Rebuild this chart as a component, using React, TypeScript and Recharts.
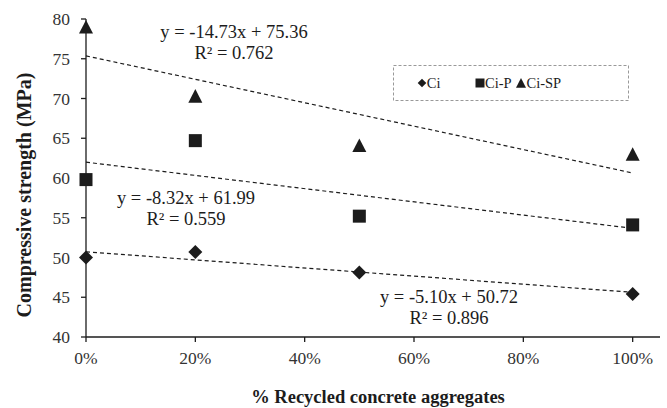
import React from 'react';
import {
  ComposedChart,
  Scatter,
  XAxis,
  YAxis,
  Customized
} from 'recharts';

// % recycled aggregate (fraction) and compressive strength (MPa)
const replacement = [0, 0.2, 0.5, 1];
const ciValues = [50.0, 50.7, 48.1, 45.4];
const ciPValues = [59.8, 64.7, 55.2, 54.1];
const ciSPValues = [79.0, 70.3, 64.1, 63.0];

// linear trendlines as printed on the chart
const trendSlopes = [-5.10, -8.32, -14.73];
const trendIntercepts = [50.72, 61.99, 75.36];
const trendR2 = ['0.896', '0.559', '0.762'];
const trendRange = [0, 1];

const xTicks = [0, 0.2, 0.4, 0.6, 0.8, 1];
const yTicks = [40, 45, 50, 55, 60, 65, 70, 75, 80];

const FONT = 'Liberation Serif, Tinos, Times New Roman, DejaVu Serif, serif';
const INK = '#1c1c1c';

const toPoints = (vals: number[]) => replacement.map((x, i) => ({ x, y: vals[i] }));
const trendPoints = (i: number) =>
  trendRange.map((x) => ({ x, y: trendSlopes[i] * x + trendIntercepts[i] }));

const Diamond = ({ cx, cy, r = 7 }: any) => (
  <polygon points={`${cx},${cy - r} ${cx + r},${cy} ${cx},${cy + r} ${cx - r},${cy}`} fill={INK} />
);
const Square = ({ cx, cy, r = 6.5 }: any) => (
  <rect x={cx - r} y={cy - r} width={2 * r} height={2 * r} fill={INK} />
);
const Triangle = ({ cx, cy, r = 7 }: any) => (
  <polygon points={`${cx},${cy - r} ${cx + r},${cy + r * 0.95} ${cx - r},${cy + r * 0.95}`} fill={INK} />
);
const NoDot = () => null;

const fmtEq = (i: number) => {
  const s = trendSlopes[i];
  return `y = ${s < 0 ? '-' : ''}${Math.abs(s).toFixed(2)}x + ${trendIntercepts[i].toFixed(2)}`;
};

// equation label positions (px) for Ci, Ci-P, Ci-SP
const eqPos = [
  { x: 449, y: 297 },
  { x: 186, y: 198 },
  { x: 234, y: 32 }
];

const legendItems = [
  { name: 'Ci', Shape: Diamond, x: 422, r: 4.3 },
  { name: 'Ci-P', Shape: Square, x: 480, r: 4.5 },
  { name: 'Ci-SP', Shape: Triangle, x: 521, r: 5 }
];

const Overlay = () => (
  <g style={{ fontFamily: FONT }} fill={INK}>
    {eqPos.map((p, i) => (
      <g key={i} fontSize={18.5} textAnchor="middle">
        <text x={p.x} y={p.y} dominantBaseline="central">{fmtEq(i)}</text>
        <text x={p.x} y={p.y + 21} dominantBaseline="central">{`R² = ${trendR2[i]}`}</text>
      </g>
    ))}
    <rect x={393.5} y={65.5} width={235} height={35} fill="#fff" stroke="#999" strokeDasharray="3 2" />
    {legendItems.map(({ name, Shape, x, r }) => (
      <g key={name}>
        <Shape cx={x} cy={83} r={r} />
        <text x={x + r + 0.5} y={83} fontSize={14.5} dominantBaseline="central">{name}</text>
      </g>
    ))}
    <text
      x={24}
      y={195}
      transform="rotate(-90 24 195)"
      textAnchor="middle"
      dominantBaseline="central"
      fontSize={20}
      fontWeight="bold"
    >
      Compressive strength (MPa)
    </text>
    <text x={378} y={397} textAnchor="middle" dominantBaseline="central" fontSize={18.5} fontWeight="bold">
      % Recycled concrete aggregates
    </text>
  </g>
);

const tickStyle = { fontFamily: FONT, fontSize: 17.5, fill: '#333' };

const App: React.FC = () => {
  return (
    <div style={{ position: 'absolute', left: 0, top: 0, width: 667, height: 408, background: '#fff', fontFamily: FONT }}>
      <ComposedChart width={667} height={408} margin={{ top: 19, right: 7, bottom: 41, left: 0 }}>
        <XAxis
          type="number"
          dataKey="x"
          domain={[0, 1.05]}
          ticks={xTicks}
          tickFormatter={(v: number) => `${Math.round(v * 100)}%`}
          height={30}
          stroke={INK}
          strokeWidth={1.3}
          tickSize={5}
          tickMargin={10}
          tick={tickStyle}
        />
        <YAxis
          type="number"
          dataKey="y"
          domain={[40, 80]}
          ticks={yTicks}
          width={86}
          stroke={INK}
          strokeWidth={1.3}
          tickSize={5}
          tickMargin={11}
          tick={tickStyle}
        />
        {[0, 1, 2].map((i) => (
          <Scatter
            key={`trend-${i}`}
            data={trendPoints(i)}
            line={{ stroke: INK, strokeWidth: 1.2, strokeDasharray: '4 3' }}
            lineType="joint"
            shape={NoDot}
            isAnimationActive={false}
          />
        ))}
        <Scatter name="Ci" data={toPoints(ciValues)} shape={<Diamond />} isAnimationActive={false} />
        <Scatter name="Ci-P" data={toPoints(ciPValues)} shape={<Square />} isAnimationActive={false} />
        <Scatter name="Ci-SP" data={toPoints(ciSPValues)} shape={<Triangle />} isAnimationActive={false} />
        <Customized component={Overlay} />
      </ComposedChart>
    </div>
  );
};

export default App;
